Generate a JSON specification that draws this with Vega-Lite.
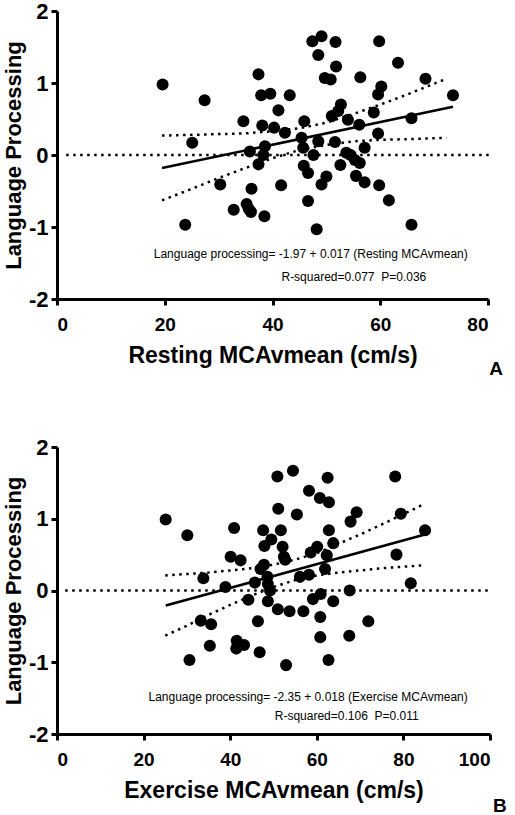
{
  "$schema": "https://vega.github.io/schema/vega-lite/v6.json",
  "background": "white",
  "padding": {"top": 0, "left": 2, "right": 5, "bottom": 0},
  "spacing": 57,
  "config": {
    "font": "Liberation Sans",
    "view": {"stroke": null},
    "axis": {
      "grid": false,
      "domainColor": "black",
      "domainWidth": 3,
      "tickColor": "black",
      "tickWidth": 3,
      "tickSize": 6,
      "labelFont": "Liberation Sans",
      "labelFontWeight": "bold",
      "labelColor": "black",
      "labelExpr": "'' + datum.value",
      "titleFont": "Liberation Sans",
      "titleFontWeight": "bold",
      "titleColor": "black"
    },
    "axisX": {"labelFontSize": 19, "labelPadding": 10, "titleFontSize": 23, "titlePadding": 10},
    "axisY": {"labelFontSize": 22, "labelPadding": 3, "titleFontSize": 22, "titlePadding": 3}
  },
  "datasets": {
    "ptsA": [
      {"x": 19.6, "y": 0.98}, {"x": 23.8, "y": -0.97}, {"x": 27.4, "y": 0.76}, {"x": 25.1, "y": 0.17},
      {"x": 30.3, "y": -0.41}, {"x": 32.8, "y": -0.76}, {"x": 34.6, "y": 0.47}, {"x": 35.2, "y": -0.68},
      {"x": 35.6, "y": -0.75}, {"x": 36.0, "y": -0.79}, {"x": 36.1, "y": -0.47}, {"x": 35.8, "y": 0.05},
      {"x": 37.4, "y": 1.12}, {"x": 37.9, "y": 0.83}, {"x": 39.6, "y": 0.85}, {"x": 38.1, "y": 0.41},
      {"x": 38.6, "y": 0.12}, {"x": 38.3, "y": 0.0}, {"x": 37.4, "y": -0.13}, {"x": 38.5, "y": -0.85},
      {"x": 40.3, "y": 0.38}, {"x": 41.1, "y": 0.62}, {"x": 41.6, "y": -0.42}, {"x": 42.3, "y": 0.31},
      {"x": 43.2, "y": 0.83}, {"x": 45.4, "y": 0.24}, {"x": 45.9, "y": 0.47}, {"x": 45.7, "y": 0.1},
      {"x": 45.8, "y": -0.15}, {"x": 46.6, "y": -0.25}, {"x": 46.6, "y": -0.64}, {"x": 47.6, "y": 0.0},
      {"x": 47.4, "y": 1.58}, {"x": 49.1, "y": 1.65}, {"x": 48.5, "y": 1.39}, {"x": 48.5, "y": 0.19},
      {"x": 48.2, "y": -1.03}, {"x": 49.1, "y": -0.41}, {"x": 50.0, "y": -0.3}, {"x": 49.7, "y": 1.07},
      {"x": 50.8, "y": 1.05}, {"x": 51.0, "y": 0.54}, {"x": 51.7, "y": 1.57}, {"x": 51.8, "y": 1.23},
      {"x": 52.2, "y": 0.61}, {"x": 52.7, "y": 0.7}, {"x": 51.6, "y": 0.18}, {"x": 52.6, "y": -0.14},
      {"x": 53.7, "y": 0.03}, {"x": 54.0, "y": 0.49}, {"x": 54.5, "y": 0.0}, {"x": 55.3, "y": -0.07},
      {"x": 55.5, "y": -0.29}, {"x": 56.2, "y": -0.11}, {"x": 56.1, "y": 0.42}, {"x": 56.3, "y": 1.08},
      {"x": 57.1, "y": 0.1}, {"x": 57.1, "y": -0.38}, {"x": 58.8, "y": 0.59}, {"x": 59.6, "y": 0.84},
      {"x": 60.2, "y": 0.95}, {"x": 59.6, "y": 0.3}, {"x": 59.8, "y": -0.42}, {"x": 59.8, "y": 1.58},
      {"x": 61.6, "y": -0.63}, {"x": 63.3, "y": 1.28}, {"x": 65.8, "y": 0.51}, {"x": 65.8, "y": -0.97},
      {"x": 68.4, "y": 1.06}, {"x": 73.5, "y": 0.83}
    ],
    "fitA": [{"x": 19.5, "y": -0.18}, {"x": 73.5, "y": 0.67}],
    "bandA": [
      {"band": "upper", "x": 19.5, "y": 0.27}, {"band": "upper", "x": 25, "y": 0.28}, {"band": "upper", "x": 30, "y": 0.29},
      {"band": "upper", "x": 35, "y": 0.30}, {"band": "upper", "x": 40, "y": 0.33}, {"band": "upper", "x": 45, "y": 0.37},
      {"band": "upper", "x": 50, "y": 0.45}, {"band": "upper", "x": 55, "y": 0.57}, {"band": "upper", "x": 60, "y": 0.70},
      {"band": "upper", "x": 65, "y": 0.84}, {"band": "upper", "x": 72.3, "y": 1.06},
      {"band": "lower", "x": 19.5, "y": -0.63}, {"band": "lower", "x": 25, "y": -0.47}, {"band": "lower", "x": 30, "y": -0.32},
      {"band": "lower", "x": 35, "y": -0.18}, {"band": "lower", "x": 40, "y": -0.045}, {"band": "lower", "x": 45, "y": 0.07},
      {"band": "lower", "x": 50, "y": 0.14}, {"band": "lower", "x": 55, "y": 0.19}, {"band": "lower", "x": 60, "y": 0.21},
      {"band": "lower", "x": 65, "y": 0.22}, {"band": "lower", "x": 72.3, "y": 0.24}
    ],
    "zeroA": [{"x": 1.7, "y": 0}, {"x": 80.3, "y": 0}],
    "textA": [
      {"x": 47.1, "y": -1.38, "label": "Language processing= -1.97 + 0.017 (Resting MCAvmean)"},
      {"x": 55.1, "y": -1.70, "label": "R-squared=0.077\u00a0 P=0.036"}
    ],
    "tagA": [{"x": 81.5, "y": -2.97, "label": "A"}],
    "ptsB": [
      {"x": 25.1, "y": 0.99}, {"x": 30.1, "y": 0.77}, {"x": 30.6, "y": -0.97}, {"x": 33.2, "y": -0.42},
      {"x": 33.8, "y": 0.17}, {"x": 35.6, "y": -0.47}, {"x": 35.3, "y": -0.77}, {"x": 38.9, "y": 0.05},
      {"x": 40.1, "y": 0.47}, {"x": 40.9, "y": 0.87}, {"x": 42.4, "y": 0.42}, {"x": 41.5, "y": -0.7},
      {"x": 41.4, "y": -0.81}, {"x": 43.2, "y": -0.76}, {"x": 44.2, "y": -0.13}, {"x": 45.7, "y": 0.11},
      {"x": 46.4, "y": -0.43}, {"x": 46.8, "y": -0.86}, {"x": 47.0, "y": 0.3}, {"x": 47.8, "y": 0.36},
      {"x": 47.6, "y": 0.84}, {"x": 47.9, "y": 0.62}, {"x": 49.5, "y": 0.71}, {"x": 48.6, "y": 0.19},
      {"x": 48.7, "y": 0.09}, {"x": 49.2, "y": 0.0}, {"x": 48.7, "y": -0.15}, {"x": 50.9, "y": 1.59},
      {"x": 51.1, "y": 1.14}, {"x": 51.7, "y": 0.84}, {"x": 52.1, "y": 0.61}, {"x": 52.4, "y": 0.47},
      {"x": 52.7, "y": 0.43}, {"x": 51.0, "y": -0.26}, {"x": 53.7, "y": -0.29}, {"x": 52.9, "y": -1.04},
      {"x": 54.5, "y": 1.67}, {"x": 55.4, "y": 1.06}, {"x": 56.1, "y": 0.19}, {"x": 56.9, "y": -0.29},
      {"x": 58.2, "y": 1.39}, {"x": 58.2, "y": 0.22}, {"x": 58.6, "y": 0.53}, {"x": 59.1, "y": -0.12},
      {"x": 60.1, "y": 0.61}, {"x": 60.7, "y": 1.29}, {"x": 60.9, "y": -0.05}, {"x": 60.8, "y": -0.37},
      {"x": 60.8, "y": -0.65}, {"x": 62.3, "y": 0.49}, {"x": 61.9, "y": 0.3}, {"x": 62.5, "y": 1.57},
      {"x": 62.8, "y": 1.23}, {"x": 62.8, "y": 0.84}, {"x": 62.7, "y": -0.97}, {"x": 63.8, "y": 0.66},
      {"x": 63.8, "y": -0.15}, {"x": 67.6, "y": 0.0}, {"x": 67.8, "y": 0.96}, {"x": 69.2, "y": 1.09},
      {"x": 67.5, "y": -0.63}, {"x": 71.9, "y": -0.43}, {"x": 78.1, "y": 1.59}, {"x": 78.4, "y": 0.5},
      {"x": 79.4, "y": 1.07}, {"x": 81.7, "y": 0.1}, {"x": 85.0, "y": 0.84}
    ],
    "fitB": [{"x": 25.1, "y": -0.21}, {"x": 85.6, "y": 0.79}],
    "bandB": [
      {"band": "upper", "x": 25, "y": 0.21}, {"band": "upper", "x": 30, "y": 0.23}, {"band": "upper", "x": 35, "y": 0.25},
      {"band": "upper", "x": 40, "y": 0.28}, {"band": "upper", "x": 45, "y": 0.31}, {"band": "upper", "x": 50, "y": 0.36},
      {"band": "upper", "x": 55, "y": 0.43}, {"band": "upper", "x": 60, "y": 0.52}, {"band": "upper", "x": 65, "y": 0.65},
      {"band": "upper", "x": 70, "y": 0.78}, {"band": "upper", "x": 75, "y": 0.92}, {"band": "upper", "x": 84.3, "y": 1.19},
      {"band": "lower", "x": 25, "y": -0.63}, {"band": "lower", "x": 30, "y": -0.49}, {"band": "lower", "x": 35, "y": -0.34},
      {"band": "lower", "x": 40, "y": -0.20}, {"band": "lower", "x": 45, "y": -0.07}, {"band": "lower", "x": 50, "y": 0.05},
      {"band": "lower", "x": 55, "y": 0.145}, {"band": "lower", "x": 60, "y": 0.21}, {"band": "lower", "x": 65, "y": 0.25},
      {"band": "lower", "x": 70, "y": 0.28}, {"band": "lower", "x": 75, "y": 0.31}, {"band": "lower", "x": 84.3, "y": 0.35}
    ],
    "zeroB": [{"x": 1.9, "y": 0}, {"x": 100, "y": 0}],
    "textB": [
      {"x": 58.0, "y": -1.48, "label": "Language processing= -2.35 + 0.018 (Exercise MCAvmean)"},
      {"x": 66.9, "y": -1.75, "label": "R-squared=0.106\u00a0 P=0.011"}
    ],
    "tagB": [{"x": 102.3, "y": -3.0, "label": "B"}]
  },
  "vconcat": [
    {
      "width": 431,
      "height": 288,
      "encoding": {
        "x": {"field": "x", "type": "quantitative", "scale": {"domain": [0, 80], "nice": false},
              "axis": {"values": [0, 20, 40, 60, 80], "title": "Resting MCAvmean (cm/s)"}},
        "y": {"field": "y", "type": "quantitative", "scale": {"domain": [-2, 2], "nice": false},
              "axis": {"values": [-2, -1, 0, 1, 2], "title": "Language Processing"}}
      },
      "layer": [
        {"data": {"name": "zeroA"}, "mark": {"type": "line", "color": "black", "strokeWidth": 2.5, "strokeDash": [2.5, 4.5]}},
        {"data": {"name": "bandA"}, "mark": {"type": "line", "color": "black", "strokeWidth": 2.5, "strokeDash": [2.5, 4.5]},
         "encoding": {"detail": {"field": "band"}}},
        {"data": {"name": "fitA"}, "mark": {"type": "line", "color": "black", "strokeWidth": 2.5}},
        {"data": {"name": "ptsA"}, "mark": {"type": "circle", "color": "black", "opacity": 1, "size": 145}},
        {"data": {"name": "textA"}, "mark": {"type": "text", "fontSize": 12, "color": "black", "font": "Liberation Sans"},
         "encoding": {"text": {"field": "label"}}},
        {"data": {"name": "tagA"}, "mark": {"type": "text", "fontSize": 19, "fontWeight": "bold", "color": "black", "font": "Liberation Sans"},
         "encoding": {"text": {"field": "label"}}}
      ]
    },
    {
      "width": 433,
      "height": 287,
      "encoding": {
        "x": {"field": "x", "type": "quantitative", "scale": {"domain": [0, 100], "nice": false},
              "axis": {"values": [0, 20, 40, 60, 80, 100], "title": "Exercise MCAvmean (cm/s)"}},
        "y": {"field": "y", "type": "quantitative", "scale": {"domain": [-2, 2], "nice": false},
              "axis": {"values": [-2, -1, 0, 1, 2], "title": "Language Processing"}}
      },
      "layer": [
        {"data": {"name": "zeroB"}, "mark": {"type": "line", "color": "black", "strokeWidth": 2.5, "strokeDash": [2.5, 4.5]}},
        {"data": {"name": "bandB"}, "mark": {"type": "line", "color": "black", "strokeWidth": 2.5, "strokeDash": [2.5, 4.5]},
         "encoding": {"detail": {"field": "band"}}},
        {"data": {"name": "fitB"}, "mark": {"type": "line", "color": "black", "strokeWidth": 2.5}},
        {"data": {"name": "ptsB"}, "mark": {"type": "circle", "color": "black", "opacity": 1, "size": 145}},
        {"data": {"name": "textB"}, "mark": {"type": "text", "fontSize": 12, "color": "black", "font": "Liberation Sans"},
         "encoding": {"text": {"field": "label"}}},
        {"data": {"name": "tagB"}, "mark": {"type": "text", "fontSize": 19, "fontWeight": "bold", "color": "black", "font": "Liberation Sans"},
         "encoding": {"text": {"field": "label"}}}
      ]
    }
  ]
}
